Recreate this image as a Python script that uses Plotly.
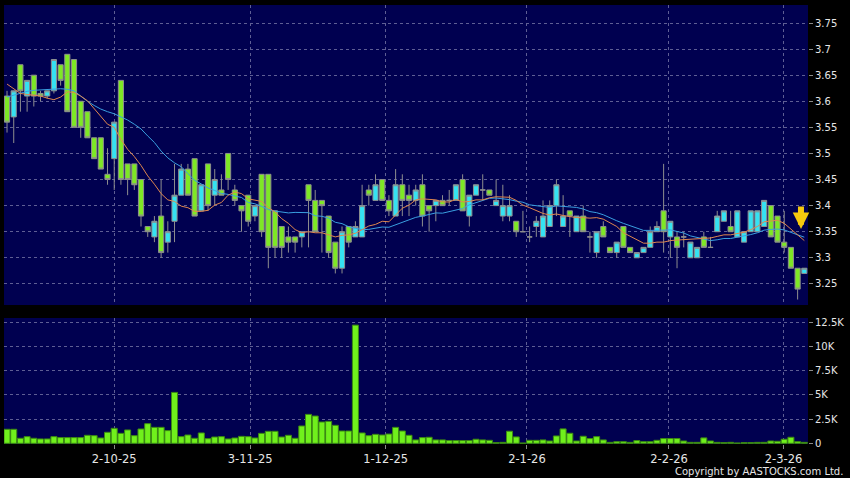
import pandas as pd
import plotly.graph_objects as go

# ---- data ----
OPEN = [3.61,3.57,3.67,3.61,3.65,3.615,3.61,3.62,3.67,3.69,
        3.68,3.60,3.58,3.53,3.53,3.46,3.49,3.64,3.48,3.48,
        3.45,3.36,3.34,3.38,3.33,3.37,3.42,3.47,3.49,3.39,
        3.48,3.42,3.43,3.50,3.43,3.40,3.42,3.38,3.46,3.46,
        3.39,3.36,3.34,3.34,3.34,3.44,3.41,3.41,3.38,3.33,
        3.28,3.36,3.34,3.34,3.43,3.41,3.45,3.41,3.38,3.44,
        3.42,3.41,3.44,3.40,3.40,3.41,3.41,3.41,3.45,3.38,
        3.42,3.43,3.43,3.40,3.38,3.38,3.37,3.35,3.34,3.36,
        3.34,3.36,3.40,3.36,3.39,3.35,3.38,3.34,3.31,3.36,
        3.32,3.31,3.36,3.32,3.30,3.31,3.32,3.35,3.39,3.34,
        3.34,3.34,3.30,3.30,3.34,3.32,3.35,3.37,3.36,3.34,
        3.33,3.35,3.35,3.36,3.40,3.38,3.33,3.32,3.28,3.27]
HIGH = [3.62,3.62,3.67,3.64,3.65,3.62,3.62,3.68,3.67,3.69,
        3.68,3.60,3.58,3.53,3.53,3.51,3.56,3.64,3.48,3.48,
        3.45,3.36,3.38,3.45,3.37,3.48,3.48,3.48,3.49,3.44,
        3.48,3.47,3.46,3.50,3.44,3.40,3.42,3.40,3.46,3.46,
        3.39,3.36,3.36,3.34,3.35,3.44,3.43,3.41,3.38,3.33,
        3.36,3.36,3.37,3.44,3.44,3.46,3.45,3.42,3.47,3.46,
        3.44,3.44,3.46,3.40,3.41,3.42,3.43,3.44,3.46,3.42,
        3.44,3.46,3.43,3.45,3.44,3.42,3.37,3.39,3.36,3.38,
        3.41,3.41,3.45,3.42,3.39,3.38,3.40,3.35,3.35,3.37,
        3.32,3.33,3.36,3.32,3.31,3.32,3.36,3.37,3.48,3.37,
        3.35,3.35,3.33,3.32,3.35,3.34,3.39,3.39,3.39,3.39,
        3.35,3.39,3.39,3.41,3.40,3.38,3.39,3.32,3.28,3.28]
LOW = [3.54,3.52,3.58,3.58,3.59,3.60,3.605,3.615,3.63,3.58,
       3.55,3.53,3.53,3.49,3.47,3.44,3.43,3.44,3.42,3.43,
       3.36,3.34,3.33,3.30,3.31,3.33,3.42,3.42,3.38,3.39,
       3.39,3.40,3.42,3.43,3.40,3.35,3.36,3.37,3.34,3.28,
       3.30,3.30,3.31,3.31,3.32,3.32,3.35,3.31,3.30,3.27,
       3.27,3.32,3.34,3.34,3.40,3.41,3.41,3.38,3.38,3.38,
       3.38,3.40,3.36,3.35,3.37,3.40,3.40,3.41,3.39,3.36,
       3.42,3.41,3.42,3.40,3.37,3.37,3.34,3.35,3.33,3.34,
       3.34,3.36,3.38,3.36,3.34,3.35,3.35,3.31,3.30,3.34,
       3.31,3.30,3.32,3.31,3.30,3.31,3.32,3.35,3.31,3.30,
       3.28,3.32,3.30,3.30,3.32,3.32,3.35,3.37,3.35,3.34,
       3.33,3.35,3.35,3.36,3.34,3.33,3.31,3.28,3.22,3.27]
CLOSE = [3.56,3.62,3.62,3.64,3.61,3.61,3.62,3.68,3.64,3.58,
         3.55,3.55,3.53,3.49,3.47,3.45,3.56,3.45,3.45,3.44,
         3.38,3.35,3.37,3.31,3.35,3.42,3.47,3.42,3.38,3.44,
         3.40,3.45,3.42,3.45,3.41,3.39,3.37,3.40,3.35,3.32,
         3.32,3.32,3.33,3.33,3.35,3.41,3.35,3.40,3.31,3.28,
         3.35,3.33,3.36,3.40,3.42,3.44,3.41,3.39,3.44,3.41,
         3.41,3.43,3.38,3.39,3.41,3.40,3.41,3.44,3.39,3.42,
         3.44,3.43,3.42,3.41,3.40,3.40,3.35,3.35,3.34,3.37,
         3.38,3.40,3.44,3.38,3.38,3.38,3.35,3.34,3.35,3.34,
         3.31,3.33,3.32,3.31,3.31,3.32,3.35,3.36,3.35,3.37,
         3.32,3.34,3.33,3.32,3.32,3.32,3.38,3.39,3.35,3.39,
         3.35,3.39,3.39,3.41,3.34,3.33,3.32,3.28,3.24,3.28]
VOLUME = [1450,1450,520,690,520,450,450,690,590,590,
          590,590,830,790,550,1140,1550,1030,1380,790,
          1480,2030,1650,1650,1310,5260,690,860,520,1070,
          480,650,690,450,550,720,690,550,1030,1240,
          1240,650,830,520,1790,2990,2820,2200,2270,1860,
          1270,1270,12210,1070,790,930,860,960,1650,1270,
          830,350,590,625,350,350,280,280,280,280,
          420,350,310,70,100,1250,660,30,310,310,
          350,240,760,1490,1040,240,730,490,690,350,
          100,170,170,100,280,170,170,310,490,490,
          490,240,100,100,560,240,100,70,100,35,
          70,70,100,100,240,210,420,625,170,100]
# moving-average values visible before a full window exists
MA10_EARLY = [3.633,3.624,3.615,3.613,3.612,3.610,3.606,3.603,3.608]
MA20_EARLY = [3.608,3.612,3.616,3.619,3.621,3.622,3.623,3.624,3.624,3.623,
              3.620,3.610,3.600,3.592,3.585,3.580,3.576,3.570,3.564]
DATE_TICK_POS = [16.0, 36.3, 56.5, 77.6, 98.8, 115.9]
DATE_TICK_TEXT = ["2-10-25", "3-11-25", "1-12-25", "2-1-26", "2-2-26", "2-3-26"]
PRICE_TICKS = [3.25, 3.30, 3.35, 3.40, 3.45, 3.50, 3.55, 3.60, 3.65, 3.70, 3.75]
PRICE_TICK_TEXT = ["3.25", "3.3", "3.35", "3.4", "3.45", "3.5", "3.55", "3.6", "3.65", "3.7", "3.75"]
VOL_TICKS = [0, 2500, 5000, 7500, 10000, 12500]
VOL_TICK_TEXT = ["0", "2.5K", "5K", "7.5K", "10K", "12.5K"]

idx = list(range(len(CLOSE)))
cs = pd.Series(CLOSE)
ma10 = cs.rolling(10).mean().tolist()
ma20 = cs.rolling(20).mean().tolist()
ma10[:len(MA10_EARLY)] = MA10_EARLY
ma20[:len(MA20_EARLY)] = MA20_EARLY

NAVY = "#000050"
GRID = "#5e5e94"
GREEN = "#7ee825"
CYAN = "#35e2f2"
EDGE = "#8e8e8e"
TXT = "#e6e6e6"
FONT = "DejaVu Sans"

fig = go.Figure()
fig.add_trace(go.Bar(x=idx, y=VOLUME, width=0.9, marker=dict(color="#70f01c", line=dict(color="#3c8a12", width=1)),
                     xaxis="x", yaxis="y2", showlegend=False, hoverinfo="skip"))
fig.add_trace(go.Candlestick(x=idx, open=OPEN, high=HIGH, low=LOW, close=CLOSE,
                             increasing=dict(fillcolor=CYAN, line=dict(color=EDGE, width=1)),
                             decreasing=dict(fillcolor=GREEN, line=dict(color=EDGE, width=1)),
                             whiskerwidth=0, xaxis="x", yaxis="y", showlegend=False))
fig.add_trace(go.Scatter(x=idx, y=ma20, mode="lines", line=dict(color="#3a9fe0", width=1),
                         xaxis="x", yaxis="y", showlegend=False))
fig.add_trace(go.Scatter(x=idx, y=ma10, mode="lines", line=dict(color="#e0874e", width=1),
                         xaxis="x", yaxis="y", showlegend=False))

fig.add_annotation(x=118.5, y=3.355, xref="x", yref="y", ax=0, ay=-24, showarrow=True,
                   arrowhead=2, arrowsize=0.55, arrowwidth=6, arrowcolor="#f6c90e", text="")
fig.add_annotation(x=1.046, y=-0.062, xref="paper", yref="paper", xanchor="right", yanchor="middle",
                   text="Copyright by AASTOCKS.com Ltd.", showarrow=False,
                   font=dict(family=FONT, size=10, color=TXT))

axis_common = dict(showgrid=True, gridcolor=GRID, griddash="3px,3px", gridwidth=1,
                   zeroline=False, showline=False, ticks="outside", ticklen=4, tickcolor="#8a8a8a",
                   tickfont=dict(family=FONT, size=10, color=TXT))
x_common = {k: v for k, v in axis_common.items() if k != "tickfont"}
fig.update_layout(
    width=850, height=478,
    margin=dict(l=4, r=42, t=5, b=34),
    paper_bgcolor="black", plot_bgcolor=NAVY,
    xaxis=dict(domain=[0, 1], anchor="y2", range=[-0.45, 119.55], tickvals=DATE_TICK_POS,
               ticktext=DATE_TICK_TEXT, rangeslider=dict(visible=False), **x_common,
               tickfont=dict(family=FONT, size=11.5, color=TXT)),
    yaxis=dict(domain=[0.3166, 1], side="right", anchor="x", range=[3.2095, 3.7845],
               tickvals=PRICE_TICKS, ticktext=PRICE_TICK_TEXT, **axis_common),
    yaxis2=dict(domain=[0, 0.287], side="right", anchor="x", range=[-70, 12944],
                tickvals=VOL_TICKS, ticktext=VOL_TICK_TEXT, **axis_common),
    bargap=0.1, boxgap=0.1, boxgroupgap=0.15, hovermode=False,
)
fig.write_html("out.html", config={"displayModeBar": False},
               post_script="document.body.style.margin='0';document.body.style.background='black';")
